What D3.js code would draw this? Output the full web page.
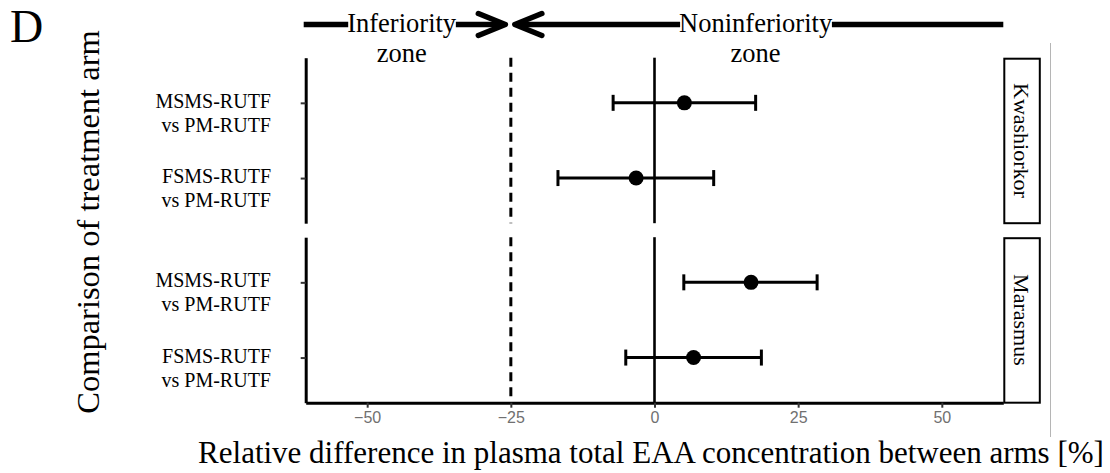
<!DOCTYPE html>
<html>
<head>
<meta charset="utf-8">
<script src="https://cdn.jsdelivr.net/npm/d3@7"></script>
<style>
  html, body { margin: 0; padding: 0; background: #fff; }
  svg { display: block; }
</style>
</head>
<body>
<svg id="chart" width="1110" height="473"></svg>
<script>
// ---- data ----
const panels = ["Kwashiorkor", "Marasmus"];
const comparisons = ["MSMS-RUTF vs PM-RUTF", "FSMS-RUTF vs PM-RUTF"];
const comparisonLines = [["MSMS-RUTF", "vs PM-RUTF"], ["FSMS-RUTF", "vs PM-RUTF"]];

const rowPanel      = ["Kwashiorkor", "Kwashiorkor", "Marasmus", "Marasmus"];
const rowComparison = ["MSMS-RUTF vs PM-RUTF", "FSMS-RUTF vs PM-RUTF",
                       "MSMS-RUTF vs PM-RUTF", "FSMS-RUTF vs PM-RUTF"];
const estimate = [5.2, -3.2, 16.8, 6.8];
const lower    = [-7.2, -16.8, 5.1, -5.0];
const upper    = [17.6, 10.3, 28.3, 18.6];

const xDomain = [-60.7, 60.7];
const xTicks = [-50, -25, 0, 25, 50];
const nonInferiorityMargin = -25;

const zoneNames  = ["Inferiority", "Noninferiority"];
const zoneCentre = [-44, 17.6];

// ---- layout ----
const svg = d3.select("#chart");
const serif = "'Liberation Serif', 'Times New Roman', serif";
const sans = "'Liberation Sans', Arial, sans-serif";

const x = d3.scaleLinear().domain(xDomain).range([305.7, 1003.3]);
const panelY = d3.scaleBand().domain(panels).range([57.7, 402.7]).paddingInner(0.078);
const rowY = d3.scalePoint().domain(comparisons).range([0, panelY.bandwidth()]).padding(0.6);

// panel label
svg.append("text").attr("x", 10).attr("y", 42)
  .style("font-family", serif).style("font-size", "46px").text("D");

// axis titles
svg.append("text")
  .attr("transform", `translate(99, 222) rotate(-90)`)
  .attr("text-anchor", "middle")
  .style("font-family", serif).style("font-size", "32.5px")
  .text("Comparison of treatment arm");

svg.append("text")
  .attr("x", 651).attr("y", 463)
  .attr("text-anchor", "middle")
  .style("font-family", serif).style("font-size", "31px")
  .text("Relative difference in plasma total EAA concentration between arms [%]");

// thin frame rule on the right
svg.append("line")
  .attr("x1", 1050.5).attr("x2", 1050.5).attr("y1", 43).attr("y2", 437)
  .attr("stroke", "#b5b5b5").attr("stroke-width", 1);

// ---- facets ----
panels.forEach((p, pi) => {
  const top = panelY(p);
  const h = panelY.bandwidth();
  const g = svg.append("g").attr("transform", `translate(0, ${top})`);

  // reference lines
  g.append("line")
    .attr("x1", x(0)).attr("x2", x(0)).attr("y1", 0).attr("y2", h)
    .attr("stroke", "#000").attr("stroke-width", 2.6);
  g.append("line")
    .attr("x1", x(nonInferiorityMargin)).attr("x2", x(nonInferiorityMargin))
    .attr("y1", 0).attr("y2", h)
    .attr("stroke", "#000").attr("stroke-width", 3)
    .attr("stroke-dasharray", "9,6");

  // y axis
  const yAxis = g.append("g").attr("transform", `translate(${x(xDomain[0])}, 0)`)
    .call(d3.axisLeft(rowY).tickSize(5).tickSizeOuter(0).tickFormat(""));
  yAxis.select(".domain").attr("stroke", "#000").attr("stroke-width", 3);
  yAxis.selectAll(".tick line").attr("stroke", "#333").attr("stroke-width", 2);

  comparisons.forEach((c, ci) => {
    const t = g.append("text")
      .attr("text-anchor", "end")
      .style("font-family", serif).style("font-size", "20px");
    comparisonLines[ci].forEach((line, li) => {
      t.append("tspan").attr("x", 271).attr("y", rowY(c) + 5 + li * 24).text(line);
    });
  });

  // x axis on bottom facet only
  if (pi === panels.length - 1) {
    const xAxis = g.append("g").attr("transform", `translate(0, ${h})`)
      .call(d3.axisBottom(x).tickValues(xTicks).tickSize(5).tickSizeOuter(0).tickPadding(4));
    xAxis.select(".domain").attr("stroke", "#000").attr("stroke-width", 3);
    xAxis.selectAll(".tick line").attr("stroke", "#333").attr("stroke-width", 2);
    xAxis.selectAll(".tick text")
      .attr("fill", "#707070")
      .style("font-family", sans).style("font-size", "16px");
  }

  // strip
  const sx0 = x(xDomain[1]), sw = 36.5;
  g.append("rect")
    .attr("x", sx0 + 1).attr("y", 1).attr("width", sw - 1).attr("height", h - 1)
    .attr("fill", "#fff").attr("stroke", "#000").attr("stroke-width", 2);
  g.append("text")
    .attr("transform", `translate(${sx0 + sw / 2}, ${h / 2}) rotate(90)`)
    .attr("text-anchor", "middle").attr("dy", "0.33em")
    .style("font-family", serif).style("font-size", "22px")
    .text(p);

  // error bars and points
  const rows = d3.range(estimate.length).filter(i => rowPanel[i] === p);
  const cap = 8;
  rows.forEach(i => {
    const yy = rowY(rowComparison[i]);
    const eb = g.append("g").attr("stroke", "#000").attr("stroke-width", 3).attr("fill", "none");
    eb.append("line").attr("x1", x(lower[i])).attr("x2", x(upper[i])).attr("y1", yy).attr("y2", yy);
    eb.append("line").attr("x1", x(lower[i])).attr("x2", x(lower[i])).attr("y1", yy - cap).attr("y2", yy + cap);
    eb.append("line").attr("x1", x(upper[i])).attr("x2", x(upper[i])).attr("y1", yy - cap).attr("y2", yy + cap);
    g.append("circle").attr("cx", x(estimate[i])).attr("cy", yy).attr("r", 7.5).attr("fill", "#000");
  });
});

// ---- zone annotation above the plot ----
const annY = 24.5;
const ann = svg.append("g");
const thick = 5.5;
const armW = 27, armH = 11;

zoneNames.forEach((name, zi) => {
  const cx = x(zoneCentre[zi]);
  const label = ann.append("text")
    .attr("x", cx).attr("y", 31.5).attr("text-anchor", "middle")
    .style("font-family", serif).style("font-size", "26.5px")
    .text(name);
  ann.append("text")
    .attr("x", cx).attr("y", 61.5).attr("text-anchor", "middle")
    .style("font-family", serif).style("font-size", "26.5px")
    .text("zone");
  const bb = label.node().getBBox();
  const left = zi === 0 ? x(xDomain[0]) - 2 : x(nonInferiorityMargin) + 4;
  const right = zi === 0 ? x(nonInferiorityMargin) - 5.5 : x(xDomain[1]);
  // shaft stops short of the head so the head tip stays pointed
  const shaftL = zi === 0 ? left : left + 4;
  const shaftR = zi === 0 ? right - 4 : right;
  ann.append("line").attr("x1", shaftL).attr("x2", bb.x + 1).attr("y1", annY).attr("y2", annY)
    .attr("stroke", "#000").attr("stroke-width", thick);
  ann.append("line").attr("x1", bb.x + bb.width - 1).attr("x2", shaftR).attr("y1", annY).attr("y2", annY)
    .attr("stroke", "#000").attr("stroke-width", thick);
  // chevron heads pointing at the margin
  const tip = zi === 0 ? right : left;
  const dir = zi === 0 ? -1 : 1;
  ann.append("path")
    .attr("d", `M${tip + dir * armW},${annY - armH} L${tip},${annY} L${tip + dir * armW},${annY + armH}`)
    .attr("fill", "none").attr("stroke", "#000").attr("stroke-width", 5.5)
    .attr("stroke-linecap", "round").attr("stroke-linejoin", "round");
});
</script>
</body>
</html>
